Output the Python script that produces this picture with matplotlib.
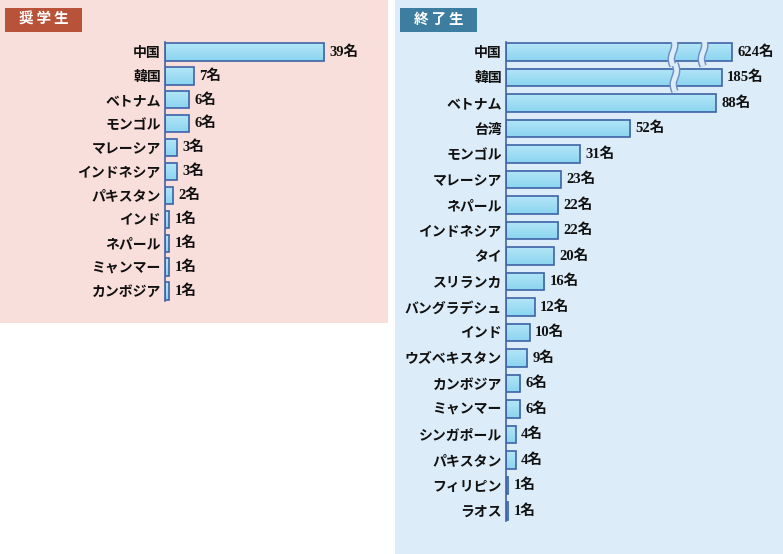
import matplotlib
matplotlib.use('Agg')
import matplotlib.pyplot as plt
from matplotlib.patches import Rectangle
from matplotlib.colors import LinearSegmentedColormap
import numpy as np

plt.rcParams['font.family'] = ['Liberation Serif', 'Noto Sans CJK JP', 'DejaVu Sans']
plt.rcParams['font.weight'] = 'bold'

W, H = 783, 554

# 奨学生
scholar_names = ['中国', '韓国', 'ベトナム', 'モンゴル', 'マレーシア', 'インドネシア',
                 'パキスタン', 'インド', 'ネパール', 'ミャンマー', 'カンボジア']
scholar_counts = [39, 7, 6, 6, 3, 3, 2, 1, 1, 1, 1]

# 終了生
grad_names = ['中国', '韓国', 'ベトナム', '台湾', 'モンゴル', 'マレーシア', 'ネパール',
              'インドネシア', 'タイ', 'スリランカ', 'バングラデシュ', 'インド',
              'ウズベキスタン', 'カンボジア', 'ミャンマー', 'シンガポール', 'パキスタン',
              'フィリピン', 'ラオス']
grad_counts = [624, 185, 88, 52, 31, 23, 22, 22, 20, 16, 12, 10, 9, 6, 6, 4, 4, 1, 1]

# bars past the axis break are drawn shortened, with wavy break marks
grad_shown = {'中国': 94.7, '韓国': 90.5}
grad_breaks = {'中国': [70.0, 82.6], '韓国': [70.8]}

EDGE = '#3f63a6'
bar_cmap = LinearSegmentedColormap.from_list('bar', ['#b3e6f8', '#8cd4ef'])


def px_box(x0, y0, x1, y1):
    # pixel box (top-left origin) -> figure fraction rect
    return [x0 / W, 1 - y1 / H, (x1 - x0) / W, (y1 - y0) / H]


def draw_panel(fig, rect, names, counts, xmax, height, bg, shown=None, breaks=None):
    shown = shown or {}
    breaks = breaks or {}
    ax = fig.add_axes(rect)
    ax.set_zorder(5)
    ax.set_facecolor('none')
    n = len(names)
    grad = np.linspace(0, 1, 20).reshape(-1, 1)
    for i, (name, c) in enumerate(zip(names, counts)):
        w = shown.get(name, c)
        ax.imshow(grad, cmap=bar_cmap, aspect='auto', zorder=2,
                  extent=[0, w, i + height / 2, i - height / 2])
        ax.add_patch(Rectangle((0, i - height / 2), w, height, facecolor='none',
                               edgecolor=EDGE, lw=1.2, zorder=3))
        for xb in breaks.get(name, []):
            t = np.linspace(0, 1, 60)
            yy = i - 0.55 + 1.1 * t
            xx = xb + 0.7 * np.sin(2 * np.pi * t)
            ax.plot(xx, yy, color='#6f8fc4', lw=5.5, zorder=4, solid_capstyle='butt')
            ax.plot(xx, yy, color=bg, lw=3.4, zorder=5, solid_capstyle='butt')
        ax.annotate(f'{c}名', (w, i), xytext=(3.8, 0), textcoords='offset points',
                    va='center', ha='left', fontsize=10.5, color='#111111',
                    annotation_clip=False)
    ax.set_xlim(0, xmax)
    ax.set_ylim(n - 1 + 0.4, -0.4)
    ax.set_yticks(range(n))
    ax.set_yticklabels(names, fontsize=10, color='#111111')
    ax.tick_params(axis='y', length=0, pad=3)
    ax.set_xticks([])
    for s in ['top', 'right', 'bottom']:
        ax.spines[s].set_visible(False)
    ax.spines['left'].set_color(EDGE)
    ax.spines['left'].set_linewidth(1.2)
    ax.spines['left'].set_zorder(6)
    return ax


fig = plt.figure(figsize=(W / 100, H / 100), dpi=100)

pink = '#f9dfdb'
blue = '#dcedf9'
fig.patches.append(Rectangle((0, 1 - 323 / H), 388 / W, 323 / H, transform=fig.transFigure,
                             facecolor=pink, edgecolor='none', zorder=-2))
fig.patches.append(Rectangle((395 / W, 0), 388 / W, 1, transform=fig.transFigure,
                             facecolor=blue, edgecolor='none', zorder=-2))

# headers
for x0, color, title in [(5, '#b85238', '奨学生'), (400, '#3d7ea0', '終了生')]:
    r = px_box(x0, 8, x0 + 77, 32)
    fig.patches.append(Rectangle((r[0], r[1]), r[2], r[3], transform=fig.transFigure,
                                 facecolor=color, edgecolor='none', zorder=-1))
    fig.text(r[0] + r[2] / 2, r[1] + r[3] / 2, '\u2009'.join(title), color='white',
             fontsize=10.5, ha='center', va='center', zorder=2)

# left panel: row pitch 23.9 px, 4.08 px per person
p = 23.9
top = 52 - 0.4 * p
bot = 52 + (len(scholar_names) - 1 + 0.4) * p
draw_panel(fig, px_box(165, top, 165 + 50 * 4.08, bot), scholar_names, scholar_counts,
           50, 0.72, pink)

# right panel: row pitch 25.5 px, 2.386 px per person
p = 25.5
top = 52 - 0.4 * p
bot = 52 + (len(grad_names) - 1 + 0.4) * p
draw_panel(fig, px_box(506, top, 506 + 110 * 2.386, bot), grad_names, grad_counts,
           110, 0.68, blue, grad_shown, grad_breaks)

fig.savefig('out.png', dpi=100)
